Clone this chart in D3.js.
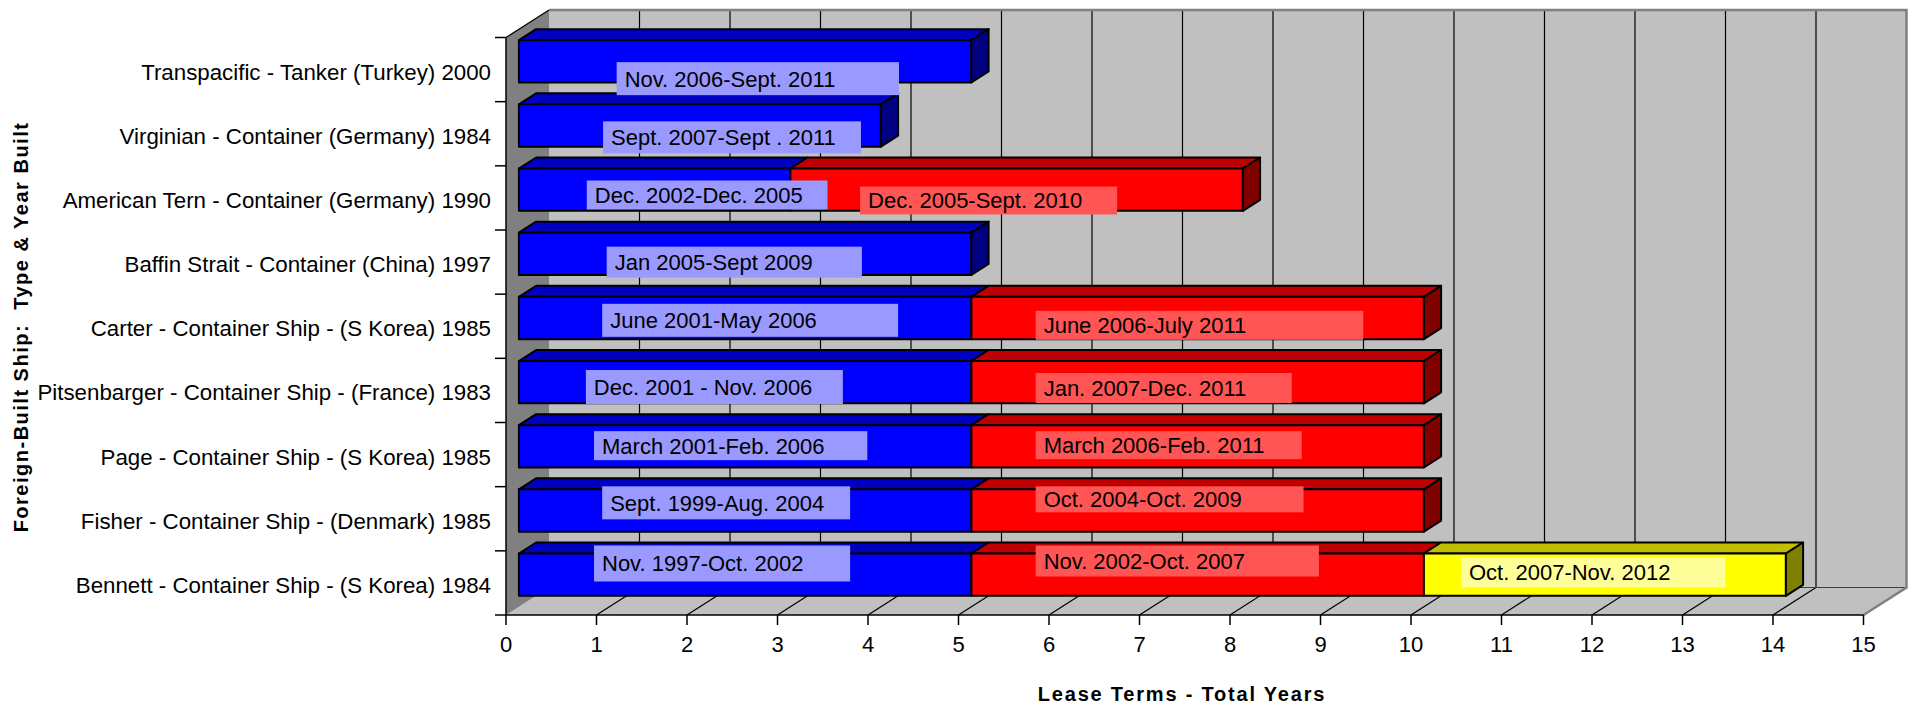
<!DOCTYPE html>
<html>
<head>
<meta charset="utf-8">
<script src="https://cdn.jsdelivr.net/npm/d3@7"></script>
<style>
  html, body { margin: 0; padding: 0; background: #fff; }
  svg { display: block; font-family: "Liberation Sans", Arial, sans-serif; }
</style>
</head>
<body>
<svg id="chart" width="1913" height="707"></svg>
<script>
// ships, top row first
const ships = [
  "Transpacific - Tanker (Turkey) 2000",
  "Virginian - Container (Germany) 1984",
  "American Tern - Container (Germany) 1990",
  "Baffin Strait - Container (China) 1997",
  "Carter - Container Ship - (S Korea) 1985",
  "Pitsenbarger - Container Ship - (France) 1983",
  "Page - Container Ship - (S Korea) 1985",
  "Fisher - Container Ship - (Denmark) 1985",
  "Bennett - Container Ship - (S Korea) 1984"
];
// lease term lengths in years
const firstTerm = [5, 4, 3, 5, 5, 5, 5, 5, 5];
const secondTerm = [0, 0, 5, 0, 5, 5, 5, 5, 5];
const thirdTerm = [0, 0, 0, 0, 0, 0, 0, 0, 4];
const firstLabels = [
  "Nov. 2006-Sept. 2011", "Sept. 2007-Sept . 2011", "Dec. 2002-Dec. 2005",
  "Jan 2005-Sept 2009", "June 2001-May 2006", "Dec. 2001 - Nov. 2006",
  "March 2001-Feb. 2006", "Sept. 1999-Aug. 2004", "Nov. 1997-Oct. 2002"
];
const secondLabels = [
  null, null, "Dec. 2005-Sept. 2010", null, "June 2006-July 2011",
  "Jan. 2007-Dec. 2011", "March 2006-Feb. 2011", "Oct. 2004-Oct. 2009",
  "Nov. 2002-Oct. 2007"
];
const thirdLabels = [null, null, null, null, null, null, null, null, "Oct. 2007-Nov. 2012"];
const xTicks = d3.range(0, 16);

// where each data label box sits (x in years, y offset/height in px from bar top)
const firstBoxes = [[1.08, 4.2, 22, 33], [0.93, 3.78, 17, 32], [0.75, 3.41, 12, 29],
  [0.97, 3.79, 14, 31], [0.92, 4.19, 7, 33], [0.74, 3.58, 9, 34], [0.83, 3.85, 6, 29],
  [0.92, 3.66, -3, 33], [0.83, 3.66, -8, 36]];
const secondBoxes = [null, null, [3.77, 6.61, 18, 28], null, [5.71, 9.33, 14, 29],
  [5.71, 8.54, 12, 30], [5.71, 8.65, 6, 28], [5.71, 8.67, -3, 26], [5.71, 8.84, -8, 31]];
const thirdBoxes = [null, null, null, null, null, null, null, null, [10.41, 13.33, 4, 30]];

const colors = [
  { front: "#0000FF", top: "#0000C0", side: "#000080", label: "#9999FF" },
  { front: "#FF0000", top: "#C00000", side: "#800000", label: "#FF5555" },
  { front: "#FFFF00", top: "#C0C000", side: "#808000", label: "#FFFF99" }
];

const svg = d3.select("#chart");
const DX = 43, DY = -27.5;  // depth of the 3d box
const F1 = 0.3, F2 = 0.7;   // bar depth range

const x = d3.scaleLinear().domain([0, 15]).range([506, 1863.5]);
const y = d3.scaleBand().domain(ships).range([37.5, 615]).paddingInner(0.34).paddingOuter(0.17);
const plotTop = y.range()[0], plotBottom = y.range()[1];

const pt = (v, py, f) => [x(v) + f * DX, py + f * DY];
const poly = (pts) => pts.map(p => p.join(",")).join(" ");

// walls and floor
svg.append("polygon")
  .attr("points", poly([pt(0, plotTop, 1), pt(15, plotTop, 1), pt(15, plotBottom, 1), pt(0, plotBottom, 1)]))
  .attr("fill", "#C0C0C0");
svg.append("polygon")
  .attr("points", poly([pt(0, plotBottom, 0), pt(15, plotBottom, 0), pt(15, plotBottom, 1), pt(0, plotBottom, 1)]))
  .attr("fill", "#C0C0C0");
svg.append("polygon")
  .attr("points", poly([pt(0, plotTop, 0), pt(0, plotTop, 1), pt(0, plotBottom, 1), pt(0, plotBottom, 0)]))
  .attr("fill", "#808080");

// gridlines on back wall and floor
xTicks.filter(v => v > 0 && v < 15).forEach(v => {
  svg.append("line")
    .attr("x1", pt(v, plotTop, 1)[0]).attr("y1", pt(v, plotTop, 1)[1])
    .attr("x2", pt(v, plotBottom, 1)[0]).attr("y2", pt(v, plotBottom, 1)[1])
    .attr("stroke", "#000").attr("stroke-width", 1.2);
  svg.append("line")
    .attr("x1", pt(v, plotBottom, 0)[0]).attr("y1", pt(v, plotBottom, 0)[1])
    .attr("x2", pt(v, plotBottom, 1)[0]).attr("y2", pt(v, plotBottom, 1)[1])
    .attr("stroke", "#000").attr("stroke-width", 1.2);
});
svg.append("line")
  .attr("x1", pt(0, plotBottom, 1)[0]).attr("y1", pt(0, plotBottom, 1)[1])
  .attr("x2", pt(15, plotBottom, 1)[0]).attr("y2", pt(15, plotBottom, 1)[1])
  .attr("stroke", "#404040").attr("stroke-width", 1);
// outer edges in gray
svg.append("polyline")
  .attr("points", poly([pt(0, plotTop, 1), pt(15, plotTop, 1), pt(15, plotBottom, 1), pt(15, plotBottom, 0)]))
  .attr("fill", "none").attr("stroke", "#808080").attr("stroke-width", 2.5);
svg.append("line")
  .attr("x1", pt(0, plotTop, 0)[0]).attr("y1", pt(0, plotTop, 0)[1])
  .attr("x2", pt(0, plotTop, 1)[0]).attr("y2", pt(0, plotTop, 1)[1])
  .attr("stroke", "#000").attr("stroke-width", 1.2);

// bars
const series = [firstTerm, secondTerm, thirdTerm];
ships.forEach((ship, i) => {
  const y0 = y(ship), y1 = y0 + y.bandwidth();
  let start = 0;
  const segs = [];
  series.forEach((s, k) => {
    if (s[i] > 0) { segs.push({ s: start, e: start + s[i], k }); start += s[i]; }
  });
  const g = svg.append("g");
  segs.forEach((sg, j) => {
    const c = colors[sg.k];
    g.append("polygon")
      .attr("points", poly([pt(sg.s, y0, F1), pt(sg.e, y0, F1), pt(sg.e, y0, F2), pt(sg.s, y0, F2)]))
      .attr("fill", c.top).attr("stroke", "#000").attr("stroke-width", 2).attr("stroke-linejoin", "round");
    g.append("polygon")
      .attr("points", poly([pt(sg.s, y0, F1), pt(sg.e, y0, F1), pt(sg.e, y1, F1), pt(sg.s, y1, F1)]))
      .attr("fill", c.front).attr("stroke", "#000").attr("stroke-width", 2).attr("stroke-linejoin", "round");
    if (j === segs.length - 1) {
      g.append("polygon")
        .attr("points", poly([pt(sg.e, y0, F1), pt(sg.e, y0, F2), pt(sg.e, y1, F2), pt(sg.e, y1, F1)]))
        .attr("fill", c.side).attr("stroke", "#000").attr("stroke-width", 2).attr("stroke-linejoin", "round");
    }
  });
});

// axes lines and ticks
svg.append("line")
  .attr("x1", x(0)).attr("y1", plotBottom).attr("x2", x(15)).attr("y2", plotBottom)
  .attr("stroke", "#000").attr("stroke-width", 1.5);
svg.append("line")
  .attr("x1", x(0)).attr("y1", plotTop).attr("x2", x(0)).attr("y2", plotBottom)
  .attr("stroke", "#000").attr("stroke-width", 1.5);
const xAxis = svg.append("g");
xTicks.forEach(v => {
  xAxis.append("line").attr("x1", x(v)).attr("x2", x(v)).attr("y1", plotBottom).attr("y2", plotBottom + 10)
    .attr("stroke", "#000").attr("stroke-width", 1.5);
  xAxis.append("text").attr("x", x(v)).attr("y", 652).attr("text-anchor", "middle")
    .attr("font-size", 22).text(v);
});
const bounds = ships.map(s => y(s) - y.step() * y.paddingInner() / 2).concat([plotBottom]);
bounds.forEach(b => {
  svg.append("line").attr("x1", x(0) - 11).attr("x2", x(0)).attr("y1", b).attr("y2", b)
    .attr("stroke", "#000").attr("stroke-width", 1.5);
});
ships.forEach(s => {
  svg.append("text").attr("x", 491).attr("y", y(s) + y.bandwidth() / 2 + 10)
    .attr("text-anchor", "end").attr("font-size", 22.3).text(s);
});

// data labels
const labelSets = [[firstLabels, firstBoxes], [secondLabels, secondBoxes], [thirdLabels, thirdBoxes]];
labelSets.forEach(([labels, boxes], k) => {
  ships.forEach((ship, i) => {
    if (!labels[i]) return;
    const [a, b, dy, h] = boxes[i];
    const bx = x(a) + F1 * DX, by = y(ship) + F1 * DY + dy;
    svg.append("rect").attr("x", bx).attr("y", by)
      .attr("width", x(b) - x(a)).attr("height", h).attr("fill", colors[k].label);
    svg.append("text").attr("x", bx + 8).attr("y", by + h / 2 + 8)
      .attr("font-size", 22).attr("fill", "#000").text(labels[i]);
  });
});

// axis titles
svg.append("text").attr("x", 1182).attr("y", 701).attr("text-anchor", "middle")
  .attr("font-size", 20).attr("font-weight", "bold").attr("letter-spacing", 1.8)
  .text("Lease Terms - Total Years");
svg.append("text").attr("transform", "translate(28,327) rotate(-90)")
  .attr("text-anchor", "middle").attr("font-size", 20).attr("font-weight", "bold")
  .attr("letter-spacing", 1.5).style("white-space", "pre")
  .text("Foreign-Built Ship:  Type & Year Built");
</script>
</body>
</html>
